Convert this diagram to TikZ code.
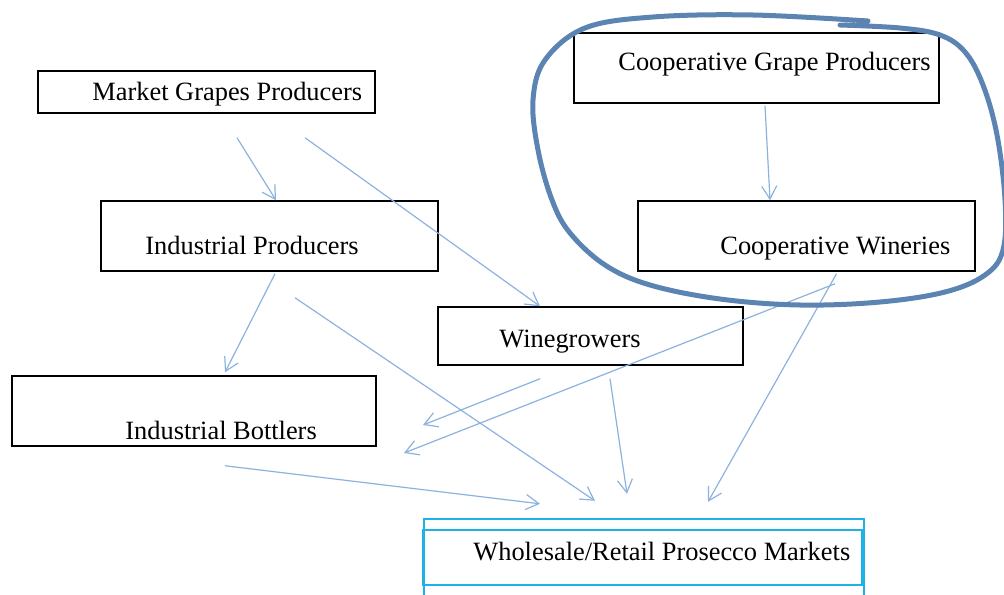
\documentclass[tikz,border=0pt]{standalone}
\usepackage{fontspec}
\setmainfont{Liberation Serif}
\usetikzlibrary{arrows.meta,calc}
\definecolor{flowblue}{RGB}{140,178,222}
\definecolor{loopblue}{RGB}{92,132,178}
\definecolor{marketcyan}{RGB}{30,178,230}
\begin{document}
\begin{tikzpicture}[x = .5pt, y = -.5pt,
                    box/.style={draw=black, line width=.75pt, inner sep=0pt},
                    mbox/.style={draw=marketcyan, line width=1.2pt, inner sep=0pt},
                    lbl/.style={anchor=base west, inner sep=0pt, font=\fontsize{13.2}{15}\selectfont},
                    flow/.style={draw=flowblue, line width=.6pt, -{Straight Barb[length=6.5pt,width=7.5pt]}}]
  \useasboundingbox (0,0) rectangle (1004,594);
  % boxes
  \node[box, minimum width=168.5pt, minimum height=21pt] (mgp) at (206.5,92) {};
  \node[box, minimum width=182.5pt, minimum height=35pt] (cgp) at (756.5,68) {};
  \node[box, minimum width=168.5pt, minimum height=35pt] (ip) at (269.5,236) {};
  \node[box, minimum width=168.5pt, minimum height=35pt] (cw) at (806.5,236) {};
  \node[box, minimum width=152.5pt, minimum height=29pt] (wg) at (590.5,336) {};
  \node[box, minimum width=182pt, minimum height=35pt] (ib) at (194,411) {};
  \node[mbox, minimum width=220pt, minimum height=47pt] (wrmo) at (644,566) {};
  \node[mbox, minimum width=219.5pt, minimum height=27.5pt] (wrm) at (642.5,557.5) {};
  % labels
  \node[lbl] (mgpt) at (92,100) {Market Grapes Producers};
  \node[lbl] (cgpt) at (618,70) {Cooperative Grape Producers};
  \node[lbl] (ipt) at (145,254) {Industrial Producers};
  \node[lbl] (cwt) at (720,254) {Cooperative Wineries};
  \node[lbl] (wgt) at (499,347) {Winegrowers};
  \node[lbl] (ibt) at (125,439) {Industrial Bottlers};
  \node[lbl] (wrmt) at (473,560) {Wholesale/Retail Prosecco Markets};
  % loose ends
  \coordinate (fa) at (423,425);
  \coordinate (fb) at (404,453);
  % flows
  \draw[flow] ($(mgp.south)+(30.5,24)$) -- ($(ip.north)+(6.5,0)$);
  \draw[flow] ($(mgp.south)+(98.5,24)$) -- ($(wg.north)+(-50.5,0)$);
  \draw[flow] ($(cgp.south)+(8.5,2)$) -- ($(cw.north)+(-36.5,0)$);
  \draw[flow] ($(ip.south)+(5.5,2)$) -- ($(ib.north)+(31,-3)$);
  \draw[flow] ($(ip.south)+(25.5,26)$) -- ($(wrmo.north)+(-49,-17)$);
  \draw[flow] ($(wg.south)+(-50.5,13)$) -- (fa);
  \draw[flow] ($(cw.south)+(28.5,12)$) -- (fb);
  \draw[flow] ($(wg.south)+(19.5,13)$) -- ($(wrmo.north)+(-17,-24)$);
  \draw[flow] ($(cw.south)+(30,2)$) -- ($(wrmo.north)+(64,-16)$);
  \draw[flow] ($(ib.south)+(31,19)$) -- ($(wrmo.north)+(-104,-14)$);
  % hand drawn ring
  \draw[loopblue, line width=2.5pt, line cap=round] plot[smooth, tension=.6] coordinates {
    (840,25) (900,28) (940,35) (965,52) (983,85) (997,135) (1005,200) (1003,250)
    (985,275) (945,292) (880,302) (800,305) (720,299) (650,285) (605,265) (570,233)
    (552,200) (538,150) (533,100) (545,60) (585,28) (653,17) (753,15) (868,21)};
\end{tikzpicture}
\end{document}
